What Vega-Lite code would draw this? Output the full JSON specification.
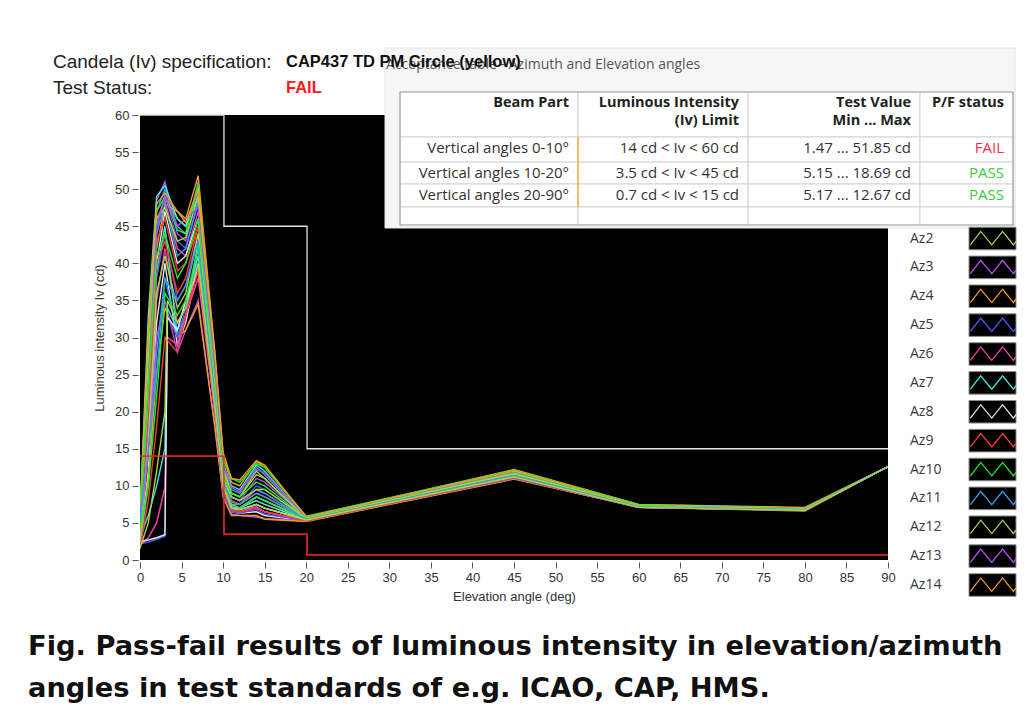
{
"$schema":"https://vega.github.io/schema/vega-lite/v6.json",
"width":748,"height":445,
"autosize":{"type":"none"},
"padding":{"left":140,"top":115,"right":139,"bottom":156},
"background":"white",
"config":{"view":{"fill":"black","stroke":null},"font":"Open Sans"},
"title":{"text":["Fig. Pass-fail results of luminous intensity in elevation/azimuth","angles in test standards of e.g. ICAO, CAP, HMS."],"orient":"bottom","anchor":"start","frame":"group","dx":-112,"offset":30,"font":"DejaVu Sans","fontSize":27.3,"fontWeight":"bold","color":"#111111","lineHeight":42},
"datasets":{
"curves":[
{"az":"Az1","el":0,"cd":4.5},{"az":"Az1","el":1,"cd":28},{"az":"Az1","el":2,"cd":47},{"az":"Az1","el":3,"cd":50},{"az":"Az1","el":4.5,"cd":45},{"az":"Az1","el":5.5,"cd":44},{"az":"Az1","el":7,"cd":51},{"az":"Az1","el":9,"cd":27},{"az":"Az1","el":10,"cd":13},{"az":"Az1","el":11,"cd":9.5},{"az":"Az1","el":12,"cd":9},{"az":"Az1","el":14,"cd":12.5},{"az":"Az1","el":15,"cd":11.5},{"az":"Az1","el":20,"cd":5.6},{"az":"Az1","el":45,"cd":11.8},{"az":"Az1","el":60,"cd":7.3},{"az":"Az1","el":80,"cd":6.9},{"az":"Az1","el":90,"cd":12.6},
{"az":"Az2","el":0,"cd":3.5},{"az":"Az2","el":1,"cd":25},{"az":"Az2","el":2,"cd":45},{"az":"Az2","el":3,"cd":49},{"az":"Az2","el":4.5,"cd":46},{"az":"Az2","el":5.5,"cd":45},{"az":"Az2","el":7,"cd":50},{"az":"Az2","el":9,"cd":26},{"az":"Az2","el":10,"cd":12.5},{"az":"Az2","el":11,"cd":9},{"az":"Az2","el":12,"cd":8.5},{"az":"Az2","el":14,"cd":12},{"az":"Az2","el":15,"cd":11},{"az":"Az2","el":20,"cd":5.5},{"az":"Az2","el":45,"cd":11.6},{"az":"Az2","el":60,"cd":7.2},{"az":"Az2","el":80,"cd":6.8},{"az":"Az2","el":90,"cd":12.6},
{"az":"Az3","el":0,"cd":5.5},{"az":"Az3","el":1,"cd":30},{"az":"Az3","el":2,"cd":48.5},{"az":"Az3","el":3,"cd":51},{"az":"Az3","el":4.5,"cd":44},{"az":"Az3","el":5.5,"cd":43},{"az":"Az3","el":7,"cd":49.5},{"az":"Az3","el":9,"cd":25},{"az":"Az3","el":10,"cd":12},{"az":"Az3","el":11,"cd":8.5},{"az":"Az3","el":12,"cd":8},{"az":"Az3","el":14,"cd":11},{"az":"Az3","el":15,"cd":10.5},{"az":"Az3","el":20,"cd":5.7},{"az":"Az3","el":45,"cd":11.9},{"az":"Az3","el":60,"cd":7.4},{"az":"Az3","el":80,"cd":7.0},{"az":"Az3","el":90,"cd":12.6},
{"az":"Az4","el":0,"cd":2.5},{"az":"Az4","el":1,"cd":20},{"az":"Az4","el":2,"cd":42},{"az":"Az4","el":3,"cd":48},{"az":"Az4","el":4.5,"cd":47},{"az":"Az4","el":5.5,"cd":46},{"az":"Az4","el":7,"cd":51.8},{"az":"Az4","el":9,"cd":28},{"az":"Az4","el":10,"cd":14},{"az":"Az4","el":11,"cd":10.5},{"az":"Az4","el":12,"cd":10},{"az":"Az4","el":14,"cd":13.3},{"az":"Az4","el":15,"cd":12.5},{"az":"Az4","el":20,"cd":5.8},{"az":"Az4","el":45,"cd":12.2},{"az":"Az4","el":60,"cd":7.5},{"az":"Az4","el":80,"cd":7.1},{"az":"Az4","el":90,"cd":12.6},
{"az":"Az5","el":0,"cd":3},{"az":"Az5","el":1,"cd":22},{"az":"Az5","el":2,"cd":44},{"az":"Az5","el":3,"cd":49.5},{"az":"Az5","el":4.5,"cd":43},{"az":"Az5","el":5.5,"cd":42},{"az":"Az5","el":7,"cd":48},{"az":"Az5","el":9,"cd":24},{"az":"Az5","el":10,"cd":11.5},{"az":"Az5","el":11,"cd":8},{"az":"Az5","el":12,"cd":7.5},{"az":"Az5","el":14,"cd":10},{"az":"Az5","el":15,"cd":9.5},{"az":"Az5","el":20,"cd":5.5},{"az":"Az5","el":45,"cd":11.5},{"az":"Az5","el":60,"cd":7.3},{"az":"Az5","el":80,"cd":6.9},{"az":"Az5","el":90,"cd":12.6},
{"az":"Az6","el":0,"cd":4},{"az":"Az6","el":1,"cd":26},{"az":"Az6","el":2,"cd":46},{"az":"Az6","el":3,"cd":48.5},{"az":"Az6","el":4.5,"cd":42},{"az":"Az6","el":5.5,"cd":41},{"az":"Az6","el":7,"cd":47},{"az":"Az6","el":9,"cd":24},{"az":"Az6","el":10,"cd":11},{"az":"Az6","el":11,"cd":7.5},{"az":"Az6","el":12,"cd":7.5},{"az":"Az6","el":14,"cd":9.5},{"az":"Az6","el":15,"cd":9},{"az":"Az6","el":20,"cd":5.4},{"az":"Az6","el":45,"cd":11.4},{"az":"Az6","el":60,"cd":7.2},{"az":"Az6","el":80,"cd":6.8},{"az":"Az6","el":90,"cd":12.6},
{"az":"Az7","el":0,"cd":6},{"az":"Az7","el":1,"cd":33},{"az":"Az7","el":2,"cd":49},{"az":"Az7","el":3,"cd":50.5},{"az":"Az7","el":4.5,"cd":46},{"az":"Az7","el":5.5,"cd":45},{"az":"Az7","el":7,"cd":49},{"az":"Az7","el":9,"cd":26},{"az":"Az7","el":10,"cd":13},{"az":"Az7","el":11,"cd":10},{"az":"Az7","el":12,"cd":9.5},{"az":"Az7","el":14,"cd":12.8},{"az":"Az7","el":15,"cd":12},{"az":"Az7","el":20,"cd":5.6},{"az":"Az7","el":45,"cd":11.7},{"az":"Az7","el":60,"cd":7.3},{"az":"Az7","el":80,"cd":6.9},{"az":"Az7","el":90,"cd":12.6},
{"az":"Az8","el":0,"cd":2},{"az":"Az8","el":1,"cd":18},{"az":"Az8","el":2,"cd":40},{"az":"Az8","el":3,"cd":47},{"az":"Az8","el":4.5,"cd":40},{"az":"Az8","el":5.5,"cd":41},{"az":"Az8","el":7,"cd":46},{"az":"Az8","el":9,"cd":23},{"az":"Az8","el":10,"cd":11},{"az":"Az8","el":11,"cd":7.5},{"az":"Az8","el":12,"cd":7},{"az":"Az8","el":14,"cd":8.5},{"az":"Az8","el":15,"cd":8},{"az":"Az8","el":20,"cd":5.4},{"az":"Az8","el":45,"cd":11.3},{"az":"Az8","el":60,"cd":7.2},{"az":"Az8","el":80,"cd":6.8},{"az":"Az8","el":90,"cd":12.6},
{"az":"Az9","el":0,"cd":3.2},{"az":"Az9","el":1,"cd":23},{"az":"Az9","el":2,"cd":43},{"az":"Az9","el":3,"cd":46},{"az":"Az9","el":4.5,"cd":39},{"az":"Az9","el":5.5,"cd":40},{"az":"Az9","el":7,"cd":45},{"az":"Az9","el":9,"cd":22},{"az":"Az9","el":10,"cd":10.5},{"az":"Az9","el":11,"cd":7},{"az":"Az9","el":12,"cd":7},{"az":"Az9","el":14,"cd":8},{"az":"Az9","el":15,"cd":7.5},{"az":"Az9","el":20,"cd":5.5},{"az":"Az9","el":45,"cd":11.2},{"az":"Az9","el":60,"cd":7.1},{"az":"Az9","el":80,"cd":6.8},{"az":"Az9","el":90,"cd":12.6},
{"az":"Az10","el":0,"cd":5},{"az":"Az10","el":1,"cd":29},{"az":"Az10","el":2,"cd":47},{"az":"Az10","el":3,"cd":49},{"az":"Az10","el":4.5,"cd":44.5},{"az":"Az10","el":5.5,"cd":44},{"az":"Az10","el":7,"cd":50.5},{"az":"Az10","el":9,"cd":27},{"az":"Az10","el":10,"cd":13.5},{"az":"Az10","el":11,"cd":11},{"az":"Az10","el":12,"cd":10.5},{"az":"Az10","el":14,"cd":13},{"az":"Az10","el":15,"cd":12.5},{"az":"Az10","el":20,"cd":5.9},{"az":"Az10","el":45,"cd":12.1},{"az":"Az10","el":60,"cd":7.5},{"az":"Az10","el":80,"cd":7.0},{"az":"Az10","el":90,"cd":12.6},
{"az":"Az11","el":0,"cd":2.8},{"az":"Az11","el":1,"cd":21},{"az":"Az11","el":2,"cd":44},{"az":"Az11","el":3,"cd":48},{"az":"Az11","el":4.5,"cd":41},{"az":"Az11","el":5.5,"cd":42},{"az":"Az11","el":7,"cd":48.5},{"az":"Az11","el":9,"cd":25},{"az":"Az11","el":10,"cd":12},{"az":"Az11","el":11,"cd":8.5},{"az":"Az11","el":12,"cd":8},{"az":"Az11","el":14,"cd":9.5},{"az":"Az11","el":15,"cd":9},{"az":"Az11","el":20,"cd":5.5},{"az":"Az11","el":45,"cd":11.6},{"az":"Az11","el":60,"cd":7.3},{"az":"Az11","el":80,"cd":6.9},{"az":"Az11","el":90,"cd":12.6},
{"az":"Az12","el":0,"cd":4.2},{"az":"Az12","el":1,"cd":27},{"az":"Az12","el":2,"cd":46},{"az":"Az12","el":3,"cd":47.5},{"az":"Az12","el":4.5,"cd":43},{"az":"Az12","el":5.5,"cd":43.5},{"az":"Az12","el":7,"cd":49},{"az":"Az12","el":9,"cd":25},{"az":"Az12","el":10,"cd":12},{"az":"Az12","el":11,"cd":9},{"az":"Az12","el":12,"cd":8.5},{"az":"Az12","el":14,"cd":11.5},{"az":"Az12","el":15,"cd":11},{"az":"Az12","el":20,"cd":5.6},{"az":"Az12","el":45,"cd":11.8},{"az":"Az12","el":60,"cd":7.4},{"az":"Az12","el":80,"cd":7.0},{"az":"Az12","el":90,"cd":12.6},
{"az":"Az13","el":0,"cd":3.8},{"az":"Az13","el":1,"cd":24},{"az":"Az13","el":2,"cd":45},{"az":"Az13","el":3,"cd":49},{"az":"Az13","el":4.5,"cd":45},{"az":"Az13","el":5.5,"cd":46},{"az":"Az13","el":7,"cd":47.5},{"az":"Az13","el":9,"cd":26},{"az":"Az13","el":10,"cd":12.8},{"az":"Az13","el":11,"cd":9.8},{"az":"Az13","el":12,"cd":9.2},{"az":"Az13","el":14,"cd":12.2},{"az":"Az13","el":15,"cd":11.8},{"az":"Az13","el":20,"cd":5.7},{"az":"Az13","el":45,"cd":11.9},{"az":"Az13","el":60,"cd":7.3},{"az":"Az13","el":80,"cd":6.9},{"az":"Az13","el":90,"cd":12.6},
{"az":"Az14","el":0,"cd":5.8},{"az":"Az14","el":1,"cd":31},{"az":"Az14","el":2,"cd":48},{"az":"Az14","el":3,"cd":49.5},{"az":"Az14","el":4.5,"cd":47},{"az":"Az14","el":5.5,"cd":45.5},{"az":"Az14","el":7,"cd":50},{"az":"Az14","el":9,"cd":28},{"az":"Az14","el":10,"cd":14.5},{"az":"Az14","el":11,"cd":11},{"az":"Az14","el":12,"cd":10.8},{"az":"Az14","el":14,"cd":13.4},{"az":"Az14","el":15,"cd":12.8},{"az":"Az14","el":20,"cd":5.8},{"az":"Az14","el":45,"cd":12.0},{"az":"Az14","el":60,"cd":7.4},{"az":"Az14","el":80,"cd":7.0},{"az":"Az14","el":90,"cd":12.6},
{"az":"Az15","el":0,"cd":3},{"az":"Az15","el":1,"cd":18},{"az":"Az15","el":2,"cd":38},{"az":"Az15","el":3,"cd":44},{"az":"Az15","el":4.5,"cd":35},{"az":"Az15","el":5.5,"cd":37},{"az":"Az15","el":7,"cd":44},{"az":"Az15","el":9,"cd":21},{"az":"Az15","el":10,"cd":10},{"az":"Az15","el":11,"cd":7},{"az":"Az15","el":12,"cd":6.8},{"az":"Az15","el":14,"cd":7.5},{"az":"Az15","el":15,"cd":7},{"az":"Az15","el":20,"cd":5.4},{"az":"Az15","el":45,"cd":11.2},{"az":"Az15","el":60,"cd":7.2},{"az":"Az15","el":80,"cd":6.8},{"az":"Az15","el":90,"cd":12.6},
{"az":"Az16","el":0,"cd":2.5},{"az":"Az16","el":1,"cd":15},{"az":"Az16","el":2,"cd":35},{"az":"Az16","el":3,"cd":42},{"az":"Az16","el":4.5,"cd":32},{"az":"Az16","el":5.5,"cd":34},{"az":"Az16","el":7,"cd":42},{"az":"Az16","el":9,"cd":20},{"az":"Az16","el":10,"cd":9.5},{"az":"Az16","el":11,"cd":6.8},{"az":"Az16","el":12,"cd":6.5},{"az":"Az16","el":14,"cd":7},{"az":"Az16","el":15,"cd":6.5},{"az":"Az16","el":20,"cd":5.3},{"az":"Az16","el":45,"cd":11.1},{"az":"Az16","el":60,"cd":7.1},{"az":"Az16","el":80,"cd":6.7},{"az":"Az16","el":90,"cd":12.6},
{"az":"Az17","el":0,"cd":4},{"az":"Az17","el":1,"cd":20},{"az":"Az17","el":2,"cd":39},{"az":"Az17","el":3,"cd":45},{"az":"Az17","el":4.5,"cd":30},{"az":"Az17","el":5.5,"cd":33},{"az":"Az17","el":7,"cd":43},{"az":"Az17","el":9,"cd":22},{"az":"Az17","el":10,"cd":10.5},{"az":"Az17","el":11,"cd":7.5},{"az":"Az17","el":12,"cd":7},{"az":"Az17","el":14,"cd":8.5},{"az":"Az17","el":15,"cd":8},{"az":"Az17","el":20,"cd":5.5},{"az":"Az17","el":45,"cd":11.4},{"az":"Az17","el":60,"cd":7.2},{"az":"Az17","el":80,"cd":6.8},{"az":"Az17","el":90,"cd":12.6},
{"az":"Az18","el":0,"cd":2},{"az":"Az18","el":1,"cd":12},{"az":"Az18","el":2,"cd":32},{"az":"Az18","el":3,"cd":40},{"az":"Az18","el":4.5,"cd":29},{"az":"Az18","el":5.5,"cd":32},{"az":"Az18","el":7,"cd":40},{"az":"Az18","el":9,"cd":20},{"az":"Az18","el":10,"cd":9},{"az":"Az18","el":11,"cd":6.5},{"az":"Az18","el":12,"cd":6.3},{"az":"Az18","el":14,"cd":6.5},{"az":"Az18","el":15,"cd":6},{"az":"Az18","el":20,"cd":5.3},{"az":"Az18","el":45,"cd":11.0},{"az":"Az18","el":60,"cd":7.1},{"az":"Az18","el":80,"cd":6.7},{"az":"Az18","el":90,"cd":12.6},
{"az":"Az19","el":0,"cd":3.8},{"az":"Az19","el":1,"cd":19},{"az":"Az19","el":2,"cd":40},{"az":"Az19","el":3,"cd":43},{"az":"Az19","el":4.5,"cd":36},{"az":"Az19","el":5.5,"cd":38},{"az":"Az19","el":7,"cd":45},{"az":"Az19","el":9,"cd":23},{"az":"Az19","el":10,"cd":11},{"az":"Az19","el":11,"cd":8},{"az":"Az19","el":12,"cd":7.5},{"az":"Az19","el":14,"cd":9},{"az":"Az19","el":15,"cd":8.5},{"az":"Az19","el":20,"cd":5.5},{"az":"Az19","el":45,"cd":11.5},{"az":"Az19","el":60,"cd":7.3},{"az":"Az19","el":80,"cd":6.9},{"az":"Az19","el":90,"cd":12.6},
{"az":"Az20","el":0,"cd":5.5},{"az":"Az20","el":1,"cd":24},{"az":"Az20","el":2,"cd":41},{"az":"Az20","el":3,"cd":44},{"az":"Az20","el":4.5,"cd":38},{"az":"Az20","el":5.5,"cd":40},{"az":"Az20","el":7,"cd":46},{"az":"Az20","el":9,"cd":24},{"az":"Az20","el":10,"cd":11.5},{"az":"Az20","el":11,"cd":9},{"az":"Az20","el":12,"cd":8.5},{"az":"Az20","el":14,"cd":10.5},{"az":"Az20","el":15,"cd":10},{"az":"Az20","el":20,"cd":5.6},{"az":"Az20","el":45,"cd":11.7},{"az":"Az20","el":60,"cd":7.3},{"az":"Az20","el":80,"cd":6.9},{"az":"Az20","el":90,"cd":12.6},
{"az":"Az21","el":0,"cd":1.8},{"az":"Az21","el":1,"cd":10},{"az":"Az21","el":2,"cd":28},{"az":"Az21","el":3,"cd":38},{"az":"Az21","el":4.5,"cd":31},{"az":"Az21","el":5.5,"cd":33},{"az":"Az21","el":7,"cd":41},{"az":"Az21","el":9,"cd":22},{"az":"Az21","el":10,"cd":10},{"az":"Az21","el":11,"cd":7},{"az":"Az21","el":12,"cd":6.5},{"az":"Az21","el":14,"cd":7.5},{"az":"Az21","el":15,"cd":7},{"az":"Az21","el":20,"cd":5.4},{"az":"Az21","el":45,"cd":11.3},{"az":"Az21","el":60,"cd":7.2},{"az":"Az21","el":80,"cd":6.8},{"az":"Az21","el":90,"cd":12.6},
{"az":"Az22","el":0,"cd":3.5},{"az":"Az22","el":1,"cd":16},{"az":"Az22","el":2,"cd":36},{"az":"Az22","el":3,"cd":41},{"az":"Az22","el":4.5,"cd":34},{"az":"Az22","el":5.5,"cd":36},{"az":"Az22","el":7,"cd":44},{"az":"Az22","el":9,"cd":23},{"az":"Az22","el":10,"cd":11},{"az":"Az22","el":11,"cd":8.5},{"az":"Az22","el":12,"cd":8},{"az":"Az22","el":14,"cd":9.5},{"az":"Az22","el":15,"cd":9.5},{"az":"Az22","el":20,"cd":5.6},{"az":"Az22","el":45,"cd":11.6},{"az":"Az22","el":60,"cd":7.3},{"az":"Az22","el":80,"cd":6.9},{"az":"Az22","el":90,"cd":12.6},
{"az":"Az23","el":0,"cd":6},{"az":"Az23","el":1,"cd":14},{"az":"Az23","el":2,"cd":30},{"az":"Az23","el":3,"cd":35},{"az":"Az23","el":4.5,"cd":28},{"az":"Az23","el":5.5,"cd":31},{"az":"Az23","el":7,"cd":35},{"az":"Az23","el":9,"cd":18},{"az":"Az23","el":10,"cd":9},{"az":"Az23","el":11,"cd":6.2},{"az":"Az23","el":12,"cd":6.0},{"az":"Az23","el":14,"cd":5.8},{"az":"Az23","el":15,"cd":5.6},{"az":"Az23","el":20,"cd":5.3},{"az":"Az23","el":45,"cd":11.0},{"az":"Az23","el":60,"cd":7.1},{"az":"Az23","el":80,"cd":6.7},{"az":"Az23","el":90,"cd":12.6},
{"az":"Az24","el":0,"cd":2.2},{"az":"Az24","el":1,"cd":11},{"az":"Az24","el":2,"cd":25},{"az":"Az24","el":3,"cd":34},{"az":"Az24","el":4.5,"cd":30},{"az":"Az24","el":5.5,"cd":31},{"az":"Az24","el":7,"cd":34.5},{"az":"Az24","el":9,"cd":18},{"az":"Az24","el":10,"cd":8.5},{"az":"Az24","el":11,"cd":6},{"az":"Az24","el":12,"cd":6},{"az":"Az24","el":14,"cd":6},{"az":"Az24","el":15,"cd":5.5},{"az":"Az24","el":20,"cd":5.2},{"az":"Az24","el":45,"cd":10.9},{"az":"Az24","el":60,"cd":7.1},{"az":"Az24","el":80,"cd":6.6},{"az":"Az24","el":90,"cd":12.6},
{"az":"Az25","el":0,"cd":2.2},{"az":"Az25","el":1,"cd":2.4},{"az":"Az25","el":2,"cd":2.8},{"az":"Az25","el":3,"cd":3.2},{"az":"Az25","el":3.3,"cd":33},{"az":"Az25","el":4.5,"cd":30},{"az":"Az25","el":5.5,"cd":34},{"az":"Az25","el":7,"cd":40},{"az":"Az25","el":9,"cd":20},{"az":"Az25","el":10,"cd":9},{"az":"Az25","el":11,"cd":6.5},{"az":"Az25","el":12,"cd":6.3},{"az":"Az25","el":14,"cd":6.8},{"az":"Az25","el":15,"cd":6.2},{"az":"Az25","el":20,"cd":5.3},{"az":"Az25","el":45,"cd":11.0},{"az":"Az25","el":60,"cd":7.1},{"az":"Az25","el":80,"cd":6.7},{"az":"Az25","el":90,"cd":12.6},
{"az":"Az26","el":0,"cd":2},{"az":"Az26","el":1,"cd":3},{"az":"Az26","el":2,"cd":5},{"az":"Az26","el":3,"cd":9.8},{"az":"Az26","el":3.3,"cd":30},{"az":"Az26","el":4.5,"cd":29},{"az":"Az26","el":5.5,"cd":33},{"az":"Az26","el":7,"cd":38},{"az":"Az26","el":9,"cd":20},{"az":"Az26","el":10,"cd":9.5},{"az":"Az26","el":11,"cd":6.8},{"az":"Az26","el":12,"cd":6.5},{"az":"Az26","el":14,"cd":7.2},{"az":"Az26","el":15,"cd":6.5},{"az":"Az26","el":20,"cd":5.3},{"az":"Az26","el":45,"cd":11.1},{"az":"Az26","el":60,"cd":7.1},{"az":"Az26","el":80,"cd":6.7},{"az":"Az26","el":90,"cd":12.6},
{"az":"Az27","el":0,"cd":3},{"az":"Az27","el":1,"cd":6},{"az":"Az27","el":2,"cd":10},{"az":"Az27","el":3,"cd":15},{"az":"Az27","el":3.3,"cd":34},{"az":"Az27","el":4.5,"cd":31},{"az":"Az27","el":5.5,"cd":35},{"az":"Az27","el":7,"cd":41},{"az":"Az27","el":9,"cd":22},{"az":"Az27","el":10,"cd":10},{"az":"Az27","el":11,"cd":7.2},{"az":"Az27","el":12,"cd":7},{"az":"Az27","el":14,"cd":8},{"az":"Az27","el":15,"cd":7.5},{"az":"Az27","el":20,"cd":5.4},{"az":"Az27","el":45,"cd":11.2},{"az":"Az27","el":60,"cd":7.2},{"az":"Az27","el":80,"cd":6.8},{"az":"Az27","el":90,"cd":12.6},
{"az":"Az28","el":0,"cd":2.5},{"az":"Az28","el":1,"cd":2.7},{"az":"Az28","el":2,"cd":3},{"az":"Az28","el":3,"cd":3.4},{"az":"Az28","el":3.3,"cd":32.7},{"az":"Az28","el":4.5,"cd":31},{"az":"Az28","el":5.5,"cd":35},{"az":"Az28","el":7,"cd":39},{"az":"Az28","el":9,"cd":21},{"az":"Az28","el":10,"cd":9.8},{"az":"Az28","el":11,"cd":7},{"az":"Az28","el":12,"cd":6.8},{"az":"Az28","el":14,"cd":7.5},{"az":"Az28","el":15,"cd":7},{"az":"Az28","el":20,"cd":5.4},{"az":"Az28","el":45,"cd":11.2},{"az":"Az28","el":60,"cd":7.2},{"az":"Az28","el":80,"cd":6.8},{"az":"Az28","el":90,"cd":12.6},
{"az":"Az29","el":0,"cd":1.5},{"az":"Az29","el":1,"cd":8},{"az":"Az29","el":2,"cd":18},{"az":"Az29","el":3,"cd":30},{"az":"Az29","el":4.5,"cd":28},{"az":"Az29","el":5.5,"cd":33},{"az":"Az29","el":7,"cd":39},{"az":"Az29","el":9,"cd":21},{"az":"Az29","el":10,"cd":9.5},{"az":"Az29","el":11,"cd":6.8},{"az":"Az29","el":12,"cd":6.5},{"az":"Az29","el":14,"cd":7},{"az":"Az29","el":15,"cd":6.5},{"az":"Az29","el":20,"cd":5.3},{"az":"Az29","el":45,"cd":11.1},{"az":"Az29","el":60,"cd":7.1},{"az":"Az29","el":80,"cd":6.7},{"az":"Az29","el":90,"cd":12.6},
{"az":"Az30","el":0,"cd":4},{"az":"Az30","el":1,"cd":10},{"az":"Az30","el":2,"cd":22},{"az":"Az30","el":3,"cd":36},{"az":"Az30","el":4.5,"cd":33},{"az":"Az30","el":5.5,"cd":35},{"az":"Az30","el":7,"cd":42},{"az":"Az30","el":9,"cd":22},{"az":"Az30","el":10,"cd":10.5},{"az":"Az30","el":11,"cd":7.5},{"az":"Az30","el":12,"cd":7},{"az":"Az30","el":14,"cd":8.5},{"az":"Az30","el":15,"cd":8},{"az":"Az30","el":20,"cd":5.5},{"az":"Az30","el":45,"cd":11.3},{"az":"Az30","el":60,"cd":7.2},{"az":"Az30","el":80,"cd":6.8},{"az":"Az30","el":90,"cd":12.6},
{"az":"Az31","el":0,"cd":5},{"az":"Az31","el":1,"cd":15},{"az":"Az31","el":2,"cd":25},{"az":"Az31","el":3,"cd":38},{"az":"Az31","el":4.5,"cd":35},{"az":"Az31","el":5.5,"cd":37},{"az":"Az31","el":7,"cd":43},{"az":"Az31","el":9,"cd":22},{"az":"Az31","el":10,"cd":10.5},{"az":"Az31","el":11,"cd":7.8},{"az":"Az31","el":12,"cd":7.5},{"az":"Az31","el":14,"cd":9},{"az":"Az31","el":15,"cd":8.5},{"az":"Az31","el":20,"cd":5.5},{"az":"Az31","el":45,"cd":11.4},{"az":"Az31","el":60,"cd":7.2},{"az":"Az31","el":80,"cd":6.8},{"az":"Az31","el":90,"cd":12.6},
{"az":"Az32","el":0,"cd":1.6},{"az":"Az32","el":1,"cd":5},{"az":"Az32","el":2,"cd":12},{"az":"Az32","el":3,"cd":20},{"az":"Az32","el":3.3,"cd":35},{"az":"Az32","el":4.5,"cd":32},{"az":"Az32","el":5.5,"cd":34},{"az":"Az32","el":7,"cd":40},{"az":"Az32","el":9,"cd":21},{"az":"Az32","el":10,"cd":10},{"az":"Az32","el":11,"cd":7},{"az":"Az32","el":12,"cd":6.8},{"az":"Az32","el":14,"cd":7.5},{"az":"Az32","el":15,"cd":7},{"az":"Az32","el":20,"cd":5.4},{"az":"Az32","el":45,"cd":11.2},{"az":"Az32","el":60,"cd":7.1},{"az":"Az32","el":80,"cd":6.7},{"az":"Az32","el":90,"cd":12.6}
],
"limits":[
{"limit":"upper","el":0,"cd":60},{"limit":"upper","el":10.1,"cd":45},{"limit":"upper","el":20.1,"cd":15},{"limit":"upper","el":90,"cd":15},
{"limit":"lower","el":0,"cd":14},{"limit":"lower","el":10.1,"cd":3.5},{"limit":"lower","el":20.1,"cd":0.7},{"limit":"lower","el":90,"cd":0.7}
],
"legendItems":[{"az":"Az2"},{"az":"Az3"},{"az":"Az4"},{"az":"Az5"},{"az":"Az6"},{"az":"Az7"},{"az":"Az8"},{"az":"Az9"},{"az":"Az10"},{"az":"Az11"},{"az":"Az12"},{"az":"Az13"},{"az":"Az14"}],
"tableGrid":[
{"part":"panel","c0":-1,"c1":5,"r0":-1,"r1":6},
{"part":"cell","c0":0,"c1":1,"r0":0,"r1":1},{"part":"cell","c0":1,"c1":2,"r0":0,"r1":1},{"part":"cell","c0":2,"c1":3,"r0":0,"r1":1},{"part":"cell","c0":3,"c1":4,"r0":0,"r1":1},
{"part":"cell","c0":0,"c1":1,"r0":1,"r1":2},{"part":"cell","c0":1,"c1":2,"r0":1,"r1":2},{"part":"cell","c0":2,"c1":3,"r0":1,"r1":2},{"part":"cell","c0":3,"c1":4,"r0":1,"r1":2},
{"part":"cell","c0":0,"c1":1,"r0":2,"r1":3},{"part":"cell","c0":1,"c1":2,"r0":2,"r1":3},{"part":"cell","c0":2,"c1":3,"r0":2,"r1":3},{"part":"cell","c0":3,"c1":4,"r0":2,"r1":3},
{"part":"cell","c0":0,"c1":1,"r0":3,"r1":4},{"part":"cell","c0":1,"c1":2,"r0":3,"r1":4},{"part":"cell","c0":2,"c1":3,"r0":3,"r1":4},{"part":"cell","c0":3,"c1":4,"r0":3,"r1":4},
{"part":"cell","c0":0,"c1":1,"r0":4,"r1":5},{"part":"cell","c0":1,"c1":2,"r0":4,"r1":5},{"part":"cell","c0":2,"c1":3,"r0":4,"r1":5},{"part":"cell","c0":3,"c1":4,"r0":4,"r1":5},
{"part":"frame","c0":0,"c1":4,"r0":0,"r1":5},
{"part":"accent","c0":1,"c1":1,"r0":1,"r1":4}
],
"tableText":[
{"r":-1,"c":-1,"t":"Acceptance table - Azimuth and Elevation angles"},
{"r":0,"c":1,"t":"Beam Part"},{"r":0,"c":2,"t":"Luminous Intensity\n(Iv) Limit"},{"r":0,"c":3,"t":"Test Value\nMin ... Max"},{"r":0,"c":4,"t":"P/F status"},
{"r":1,"c":1,"t":"Vertical angles 0-10°"},{"r":1,"c":2,"t":"14 cd < Iv < 60 cd"},{"r":1,"c":3,"t":"1.47 ... 51.85 cd"},{"r":1,"c":4,"t":"FAIL"},
{"r":2,"c":1,"t":"Vertical angles 10-20°"},{"r":2,"c":2,"t":"3.5 cd < Iv < 45 cd"},{"r":2,"c":3,"t":"5.15 ... 18.69 cd"},{"r":2,"c":4,"t":"PASS"},
{"r":3,"c":1,"t":"Vertical angles 20-90°"},{"r":3,"c":2,"t":"0.7 cd < Iv < 15 cd"},{"r":3,"c":3,"t":"5.17 ... 12.67 cd"},{"r":3,"c":4,"t":"PASS"}
],
"headerText":[
{"line":"spec","pos":"label","t":"Candela (Iv) specification:"},{"line":"spec","pos":"value","t":"CAP437 TD PM Circle (yellow)"},
{"line":"status","pos":"label","t":"Test Status:"},{"line":"status","pos":"value","t":"FAIL"}
]
},
"layer":[
{"layer":[
{"data":{"name":"tableGrid"},"transform":[{"filter":"datum.part==='panel'"}],"mark":{"type":"rect","fill":"#f6f6f6","stroke":"#e4e4e4","strokeWidth":1},
"encoding":{"x":{"field":"c0","type":"quantitative","scale":{"type":"linear","domain":[-1,0,1,2,3,4,5],"range":[245,260,438,608,780,873,875],"nice":false,"zero":false},"axis":null},"x2":{"field":"c1"},
"y":{"field":"r0","type":"quantitative","scale":{"type":"linear","domain":[-1,0,1,2,3,4,5,6],"range":[-67,-23,22,47,69,92,110,113],"nice":false,"zero":false},"axis":null},"y2":{"field":"r1"}}},
{"data":{"name":"tableGrid"},"transform":[{"filter":"datum.part==='cell'"}],"mark":{"type":"rect","fill":"white","stroke":"#d2d2d2","strokeWidth":1},
"encoding":{"x":{"field":"c0","type":"quantitative","axis":null},"x2":{"field":"c1"},"y":{"field":"r0","type":"quantitative","axis":null},"y2":{"field":"r1"}}},
{"data":{"name":"tableGrid"},"transform":[{"filter":"datum.part==='frame'"}],"mark":{"type":"rect","fill":null,"fillOpacity":0,"stroke":"#a6a6a6","strokeWidth":1.2},
"encoding":{"x":{"field":"c0","type":"quantitative","axis":null},"x2":{"field":"c1"},"y":{"field":"r0","type":"quantitative","axis":null},"y2":{"field":"r1"}}},
{"data":{"name":"tableGrid"},"transform":[{"filter":"datum.part==='accent'"}],"mark":{"type":"rule","stroke":"#f0b040","strokeWidth":1.5},
"encoding":{"x":{"field":"c0","type":"quantitative","axis":null},"y":{"field":"r0","type":"quantitative","axis":null},"y2":{"field":"r1"}}},
{"data":{"name":"tableText"},"transform":[{"filter":"datum.r===-1"}],"mark":{"type":"text","align":"left","baseline":"top","dx":1,"dy":10,"font":"Open Sans","fontSize":14,"color":"#555555"},
"encoding":{"x":{"field":"c","type":"quantitative","axis":null},"y":{"field":"r","type":"quantitative","axis":null},"text":{"field":"t"}}},
{"data":{"name":"tableText"},"transform":[{"filter":"datum.r===0"}],"mark":{"type":"text","align":"right","baseline":"top","dx":-9,"dy":4,"font":"Open Sans","fontSize":14.5,"fontWeight":"bold","color":"#222222","lineBreak":"\n","lineHeight":18},
"encoding":{"x":{"field":"c","type":"quantitative","axis":null},"y":{"field":"r","type":"quantitative","axis":null},"text":{"field":"t"}}},
{"data":{"name":"tableText"},"transform":[{"filter":"datum.r>0"}],"mark":{"type":"text","align":"right","baseline":"top","dx":-9,"dy":3.5,"font":"Open Sans","fontSize":15},
"encoding":{"x":{"field":"c","type":"quantitative","axis":null},"y":{"field":"r","type":"quantitative","axis":null},"text":{"field":"t"},
"color":{"condition":[{"test":"datum.t==='FAIL'","value":"#ff2a4a"},{"test":"datum.t==='PASS'","value":"#3ccc3c"}],"value":"#333333"}}}
]},
{"data":{"name":"legendItems"},"layer":[
{"mark":{"type":"text","align":"left","baseline":"middle","font":"Open Sans","fontSize":14,"color":"#3a3a3a"},
"encoding":{"x":{"datum":"label","type":"nominal","scale":{"type":"point","domain":["label","swatch"],"range":[770,852.5],"padding":0},"axis":null},
"y":{"field":"az","type":"nominal","scale":{"type":"point","domain":["Az2","Az3","Az4","Az5","Az6","Az7","Az8","Az9","Az10","Az11","Az12","Az13","Az14"],"range":[123.5,470],"padding":0},"axis":null},
"text":{"field":"az"}}},
{"mark":{"type":"point","shape":"M-1,-0.48L1,-0.48L1,0.48L-1,0.48Z","size":2209,"filled":true,"fill":"black","stroke":"#8c8c8c","strokeWidth":1,"opacity":1},
"encoding":{"x":{"datum":"swatch","type":"nominal","axis":null},"y":{"field":"az","type":"nominal","axis":null}}},
{"mark":{"type":"point","shape":"M-0.94,0.27L-0.5,-0.3L-0.03,0.27L0.43,-0.3L0.89,0.27L1,0.12","size":2209,"filled":false,"strokeWidth":1.3,"opacity":1},
"encoding":{"x":{"datum":"swatch","type":"nominal","axis":null},"y":{"field":"az","type":"nominal","axis":null},"color":{"field":"az","type":"nominal","legend":null}}}
]},
{"data":{"name":"headerText"},"layer":[
{"transform":[{"filter":"datum.pos==='label'"}],"mark":{"type":"text","align":"left","baseline":"middle","font":"Liberation Sans","fontSize":19,"color":"#222222"},
"encoding":{"x":{"field":"pos","type":"nominal","scale":{"type":"point","domain":["label","value"],"range":[-87,146],"padding":0},"axis":null},
"y":{"field":"line","type":"nominal","scale":{"type":"point","domain":["spec","status"],"range":[-53.5,-27.5],"padding":0},"axis":null},
"text":{"field":"t"}}},
{"transform":[{"filter":"datum.pos==='value'"}],"mark":{"type":"text","align":"left","baseline":"middle","font":"Liberation Sans","fontSize":16.5,"fontWeight":"bold"},
"encoding":{"x":{"field":"pos","type":"nominal","axis":null},"y":{"field":"line","type":"nominal","axis":null},"text":{"field":"t"},
"color":{"condition":{"test":"datum.line==='status'","value":"#ff1a1a"},"value":"#111111"}}}
]},
{"layer":[
{"data":{"name":"limits"},"mark":{"type":"line","strokeWidth":1.3,"interpolate":"step-after"},
"encoding":{
"x":{"field":"el","type":"quantitative","scale":{"domain":[0,90],"nice":false,"zero":false},
"axis":{"title":"Elevation angle (deg)","values":[0,5,10,15,20,25,30,35,40,45,50,55,60,65,70,75,80,85,90],"tickCount":40,"domain":false,"grid":false,"tickSize":6,"tickColor":"#555555","offset":2,"labelFlush":false,"labelOverlap":false,"labelFont":"Liberation Sans","labelFontSize":13,"labelColor":"#333333","labelPadding":3,"titleFont":"Liberation Sans","titleFontSize":13,"titleFontWeight":"normal","titleColor":"#333333","titlePadding":6,"orient":"bottom"}},
"y":{"field":"cd","type":"quantitative","scale":{"domain":[0,60],"nice":false,"zero":false},
"axis":{"title":"Luminous intensity Iv (cd)","values":[0,5,10,15,20,25,30,35,40,45,50,55,60],"tickCount":30,"domain":false,"grid":false,"tickSize":6,"tickColor":"#555555","offset":2,"labelFlush":false,"labelOverlap":false,"labelFont":"Liberation Sans","labelFontSize":13,"labelColor":"#333333","labelPadding":3,"titleFont":"Liberation Sans","titleFontSize":13,"titleFontWeight":"normal","titleColor":"#4a3a2a","titlePadding":8,"orient":"left"}},
"stroke":{"field":"limit","type":"nominal","legend":null,"scale":{"domain":["upper","lower"],"range":["#e4e4e4","#e02424"]}}
}},
{"data":{"name":"curves"},"mark":{"type":"line","strokeWidth":1.4,"clip":true},
"encoding":{
"x":{"field":"el","type":"quantitative"},
"y":{"field":"cd","type":"quantitative"},
"color":{"field":"az","type":"nominal","legend":null,"scale":{"domain":["Az1","Az2","Az3","Az4","Az5","Az6","Az7","Az8","Az9","Az10","Az11","Az12","Az13","Az14","Az15","Az16","Az17","Az18","Az19","Az20","Az21","Az22","Az23","Az24","Az25","Az26","Az27","Az28","Az29","Az30","Az31","Az32"],
"range":["#33a0e8","#a8d848","#b050f0","#f0a020","#4858ff","#ff40b0","#40e8e0","#e8e8e8","#ff3838","#20f020","#33a0e8","#a8d848","#b050f0","#f0a020","#4858ff","#ff40b0","#40e8e0","#e8e8e8","#ff3838","#20f020","#33a0e8","#a8d848","#b050f0","#f0a020","#4858ff","#ff40b0","#40e8e0","#e8e8e8","#ff3838","#20f020","#33a0e8","#a8d848"]}}
}},
{"data":{"name":"limits"},"transform":[{"filter":"datum.limit==='lower'"}],"mark":{"type":"line","strokeWidth":1.3,"interpolate":"step-after","stroke":"#e02424"},
"encoding":{"x":{"field":"el","type":"quantitative"},"y":{"field":"cd","type":"quantitative"}}}
]}
],
"resolve":{"scale":{"x":"independent","y":"independent"}}
}
